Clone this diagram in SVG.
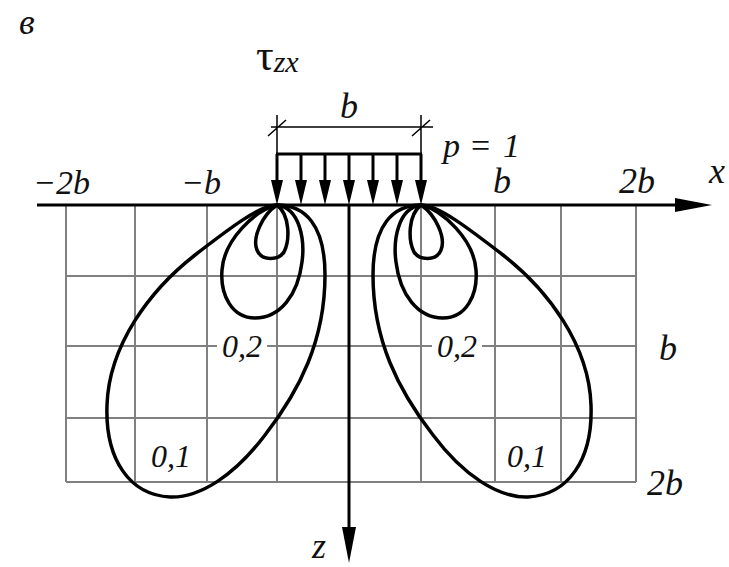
<svg xmlns="http://www.w3.org/2000/svg" width="729" height="567" viewBox="0 0 729 567">
<style>
.grid{stroke:#808080;stroke-width:2;fill:none}
.ax{stroke:#000;stroke-width:3;fill:none}
.thin{stroke:#000;stroke-width:1.5;fill:none}
.iso{stroke:#000;stroke-width:3.5;fill:none;stroke-linejoin:round}
text{font-family:"Liberation Serif","Times New Roman",serif;fill:#111}
.lab{font-style:italic;font-size:34px}
.big{font-style:italic;font-size:36px}
.num{font-style:italic;font-size:32px}
</style>
<defs>
<g id="lobes">
<path class="iso" d="M277,205 C305,205 325,225 325,275 C325,340 300,390 265,435 C235,475 200,498 170,497 C130,495 105,460 107,405 C109,345 150,290 195,255 C230,228 260,205 277,205 Z"/>
<path class="iso" d="M277,205 C300,208 305,240 302,262 C298,295 280,318 255,318 C232,318 220,295 222,270 C224,240 255,210 277,205 Z"/>
<path class="iso" d="M277,205 C290,215 290,240 284,252 C279,260 262,262 257,250 C252,238 262,215 277,205 Z"/>
</g>
</defs>
<g id="grid">
<path class="grid" d="M66,205V482M135,205V482M207,205V482M277,205V482M421,205V482M495,205V482M561,205V482M636,205V482M66,276H636M66,346H636M66,418H636M66,482H636"/>
</g>
<g id="isolines">
<use href="#lobes"/>
<use href="#lobes" transform="translate(698,0) scale(-1,1)"/>
</g>
<g id="connectors">
<line class="ax" x1="37" y1="205" x2="680" y2="205"/>
<polygon points="675,198 712,205 675,212" fill="#000"/>
<line class="ax" x1="349" y1="205" x2="349" y2="530"/>
<polygon points="342,527 356,527 349,563" fill="#000"/>
</g>
<g id="load">
<line class="ax" x1="276" y1="154" x2="422" y2="154" stroke-width="2.5"/>
<g stroke="#000" stroke-width="3">
<line x1="277" y1="154" x2="277" y2="185"/><line x1="301" y1="154" x2="301" y2="185"/><line x1="325" y1="154" x2="325" y2="185"/><line x1="349" y1="154" x2="349" y2="185"/><line x1="373" y1="154" x2="373" y2="185"/><line x1="397" y1="154" x2="397" y2="185"/><line x1="421" y1="154" x2="421" y2="185"/>
</g>
<g fill="#000">
<polygon points="271,180 283,180 277,205"/><polygon points="295,180 307,180 301,205"/><polygon points="319,180 331,180 325,205"/><polygon points="343,180 355,180 349,205"/><polygon points="367,180 379,180 373,205"/><polygon points="391,180 403,180 397,205"/><polygon points="415,180 427,180 421,205"/>
</g>
</g>
<g id="dimension">
<path class="thin" d="M277,115V154M421,115V154M271,127H433M268,136L286,120M412,136L430,120"/>
<text class="big" x="340" y="118">b</text>
</g>
<g id="labels">
<text class="big" x="19" y="34">в</text>
<text x="256" y="70" font-size="44">τ<tspan font-style="italic" font-size="30" dy="2">zx</tspan></text>
<text class="lab" y="157"><tspan x="443">p</tspan><tspan x="471" font-style="normal">=</tspan><tspan x="503">1</tspan></text>
<text class="lab" x="33" y="194">−2b</text>
<text class="lab" x="181" y="194">−b</text>
<text class="big" x="493" y="193">b</text>
<text class="big" x="619" y="193">2b</text>
<text class="big" x="709" y="183">x</text>
<text class="big" x="659" y="360">b</text>
<text class="big" x="647" y="495">2b</text>
<text class="big" x="312" y="558">z</text>
<rect x="217" y="332" width="50" height="28" fill="#fff"/>
<rect x="432" y="332" width="50" height="28" fill="#fff"/>
<text class="num" x="222" y="357">0,2</text>
<text class="num" x="437" y="357">0,2</text>
<text class="num" x="151" y="467">0,1</text>
<text class="num" x="507" y="467">0,1</text>
</g>
</svg>
